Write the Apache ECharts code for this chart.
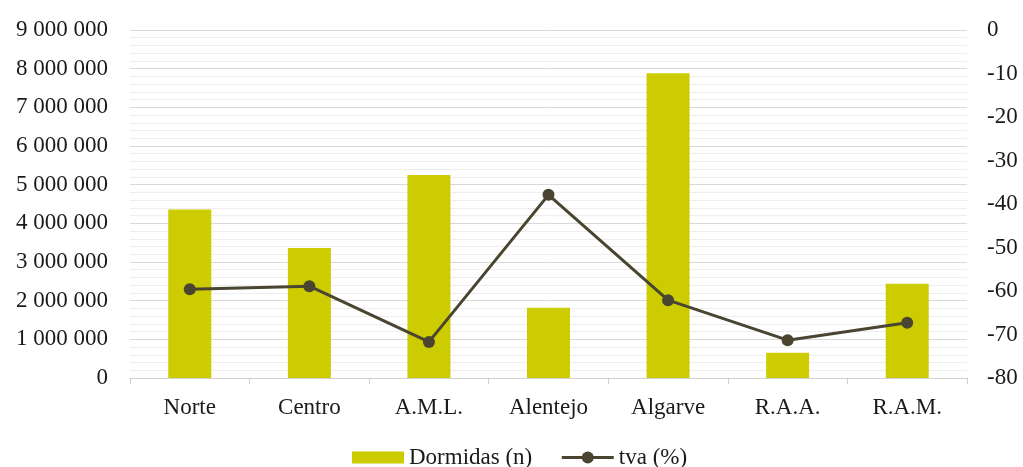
<!DOCTYPE html>
<html>
<head>
<meta charset="utf-8">
<script src="https://cdn.jsdelivr.net/npm/echarts@6/dist/echarts.min.js"></script>
<style>
  html, body { margin: 0; padding: 0; background: #fff; }
  #chart { width: 1023px; height: 467px; }
</style>
</head>
<body>
<div id="chart"></div>
<script>
// Regions
const categories = ['Norte', 'Centro', 'A.M.L.', 'Alentejo', 'Algarve', 'R.A.A.', 'R.A.M.'];
// Overnight stays (n)
const dormidas = [4360000, 3360000, 5250000, 1820000, 7880000, 650000, 2440000];
// Year-on-year change (%)
const tva = [-59.6, -58.9, -71.7, -37.9, -62.1, -71.3, -67.3];

const FONT = '"Liberation Serif", "Times New Roman", serif';
const TEXT_COLOR = '#1a1a1a';
const LINE_COLOR = '#4a4530';
const BAR_COLOR = '#cccc00';

function fmtThousands(v) {
  return String(Math.round(v)).replace(/\B(?=(\d{3})+(?!\d))/g, ' ');
}

const chart = echarts.init(document.getElementById('chart'), null, { renderer: 'canvas' });

chart.setOption({
  animation: false,
  backgroundColor: '#ffffff',
  textStyle: { fontFamily: FONT },
  grid: { left: 130, right: 56, top: 30, bottom: 89, containLabel: false },
  legend: {
    top: 441,
    left: 347,
    itemGap: 28,
    itemWidth: 52,
    itemHeight: 15,
    textStyle: { fontFamily: FONT, fontSize: 23, color: TEXT_COLOR },
    data: [
      // flat swatch, kept 12px tall inside the 15px legend slot
      { name: 'Dormidas (n)', icon: 'path://M0,0H52V12H0Z', itemStyle: { color: BAR_COLOR } },
      { name: 'tva (%)', lineStyle: { width: 3, color: LINE_COLOR } }
    ]
  },
  xAxis: {
    type: 'category',
    data: categories,
    axisLine: { show: true, lineStyle: { color: '#d0d0d0', width: 1 } },
    axisTick: { show: true, length: 6, lineStyle: { color: '#d0d0d0' } },
    axisLabel: { fontFamily: FONT, fontSize: 23, color: TEXT_COLOR, margin: 18 },
    splitLine: { show: false }
  },
  yAxis: [
    {
      type: 'value',
      min: 0,
      max: 9000000,
      interval: 1000000,
      axisLine: { show: false },
      axisTick: { show: false },
      axisLabel: {
        fontFamily: FONT, fontSize: 23, color: TEXT_COLOR, margin: 22,
        formatter: fmtThousands
      },
      splitLine: { show: true, lineStyle: { color: '#d9d9d9', width: 1 } },
      minorTick: { show: false, splitNumber: 5 },
      minorSplitLine: { show: true, lineStyle: { color: '#eeeeee', width: 1 } }
    },
    {
      type: 'value',
      min: -80,
      max: 0,
      interval: 10,
      position: 'right',
      axisLine: { show: false },
      axisTick: { show: false },
      axisLabel: { fontFamily: FONT, fontSize: 23, color: TEXT_COLOR, margin: 20 },
      splitLine: { show: false }
    }
  ],
  series: [
    {
      name: 'Dormidas (n)',
      type: 'bar',
      data: dormidas,
      yAxisIndex: 0,
      barWidth: 43,
      itemStyle: { color: BAR_COLOR }
    },
    {
      name: 'tva (%)',
      type: 'line',
      data: tva,
      yAxisIndex: 1,
      symbol: 'circle',
      symbolSize: 12,
      lineStyle: { color: LINE_COLOR, width: 3 },
      itemStyle: { color: LINE_COLOR },
      z: 5
    }
  ]
});
</script>
</body>
</html>
